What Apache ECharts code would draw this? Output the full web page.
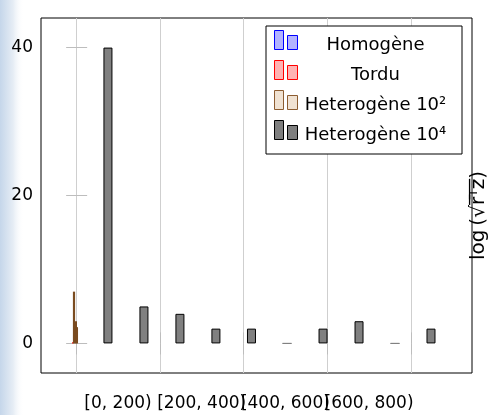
<!DOCTYPE html>
<html><head><meta charset="utf-8">
<script src="https://cdn.jsdelivr.net/npm/echarts@6/dist/echarts.min.js"></script>
<style>html,body{margin:0;padding:0;background:#fff}#c{width:489px;height:415px}</style>
</head><body><div id="c"></div>
<script>
// ---- data ----
const seriesNames = ['Homogène', 'Tordu', 'Heterogène 10²', 'Heterogène 10⁴'];
const homogeneX = [1];
const homogeneY = [0];
const torduX = [1];
const torduY = [0.15];
const hetero2X = [3, 7.5, 10];
const hetero2Y = [7, 3, 2.2];
const hetero4X = [76, 162, 248, 334, 419, 504, 590, 676, 762, 848];
const hetero4Y = [40, 5, 4, 2, 2, 0, 2, 3, 0, 2];
const xTickValues = [0, 200, 400, 600, 800];
const xLabelValues = [100, 300, 500, 700];
const xLabels = ['[0, 200)', '[200, 400)', '[400, 600)', '[600, 800)'];
const yTickValues = [0, 20, 40];
const yAxisName = 'log\u2009(√r̅ᵀ̅z̅)';

const FONT = 'DejaVu Sans';
const pair = (xs, ys) => xs.map((x, i) => [x, ys[i]]);
const iconPath = 'path://M0,0L9,0L9,19L0,19Z M13,5L23,5L23,19L13,19Z';
const labelFor = v => {
  let best = 0;
  xLabelValues.forEach((lv, i) => { if (Math.abs(lv - v) < Math.abs(xLabelValues[best] - v)) best = i; });
  return xLabels[best];
};

const chart = echarts.init(document.getElementById('c'), null, {renderer: 'canvas'});
const xCommon = {type: 'value', min: -84, max: 946};
const yCommon = {type: 'value', min: -4, max: 44};
const labelAxis = vals => Object.assign({}, xCommon, {
  position: 'bottom', offset: 0,
  axisLine: {show: false}, axisTick: {show: false}, splitLine: {show: false},
  axisLabel: {show: true, hideOverlap: false, customValues: vals, margin: 22, color: '#000',
    fontFamily: FONT, fontSize: 17, formatter: labelFor}
});
chart.setOption({
  animation: false,
  backgroundColor: '#fff',
  graphic: [{
    type: 'rect', left: 0, top: 0, z: -10,
    shape: {width: 24, height: 415},
    style: {fill: new echarts.graphic.LinearGradient(0, 0, 1, 0, [
      {offset: 0, color: '#c5d6ea'}, {offset: 0.55, color: '#e6edf5'}, {offset: 1, color: 'rgba(255,255,255,0)'}])}
  }],
  grid: {left: 41, right: 17, top: 18, bottom: 42, containLabel: false, outerBoundsMode: 'none',
    show: true, borderColor: '#000', borderWidth: 1, backgroundColor: 'transparent'},
  xAxis: [
    Object.assign({}, xCommon, {
      position: 'bottom',
      axisLine: {show: false},
      axisTick: {show: true, inside: false, length: 11, customValues: xTickValues, lineStyle: {color: '#bdbdbd'}},
      splitLine: {show: true, lineStyle: {color: '#cfcfcf', width: 1}},
      axisLabel: {show: false}
    }),
    Object.assign({}, xCommon, {
      position: 'top',
      axisLine: {show: false},
      axisTick: {show: true, inside: false, length: 11, customValues: xTickValues, lineStyle: {color: '#bdbdbd'}},
      splitLine: {show: false},
      axisLabel: {show: false}
    }),
    labelAxis([xLabelValues[0], xLabelValues[2]]),
    labelAxis([xLabelValues[1], xLabelValues[3]])
  ],
  yAxis: [
    Object.assign({}, yCommon, {
      position: 'left',
      axisLine: {show: false},
      axisTick: {show: true, inside: true, length: 11, customValues: yTickValues, lineStyle: {color: '#bdbdbd'}},
      splitLine: {show: false},
      axisLabel: {show: true, customValues: yTickValues, margin: 8, color: '#000', fontFamily: FONT, fontSize: 17}
    }),
    Object.assign({}, yCommon, {
      position: 'right',
      axisLine: {show: false},
      axisTick: {show: true, inside: true, length: 10, customValues: yTickValues, lineStyle: {color: '#bdbdbd'}},
      splitLine: {show: false},
      axisLabel: {show: false},
      name: yAxisName, nameLocation: 'middle', nameRotate: 90, nameGap: -3,
      nameTextStyle: {color: '#000', fontFamily: FONT, fontSize: 20, padding: [0, 40, 0, 0]}
    })
  ],
  legend: {
    left: 266, top: 26, orient: 'vertical',
    padding: [0, 14, 10, 8], itemGap: 2, itemWidth: 24, itemHeight: 19,
    backgroundColor: '#fff', borderColor: '#000', borderWidth: 1, borderRadius: 0,
    selectedMode: false,
    formatter: n => '{t|' + n + '}',
    textStyle: {rich: {t: {fontFamily: FONT, fontSize: 18, color: '#000', width: 145, align: 'center', lineHeight: 19, padding: [10, 0, 0, 0]}}},
    data: [
      {name: seriesNames[0], icon: iconPath, itemStyle: {color: '#b3b3ff', borderColor: '#0000ff', borderWidth: 1}},
      {name: seriesNames[1], icon: iconPath, itemStyle: {color: '#ffb3b3', borderColor: '#ff0000', borderWidth: 1}},
      {name: seriesNames[2], icon: iconPath, itemStyle: {color: '#f0e2d2', borderColor: '#8c5c30', borderWidth: 1}},
      {name: seriesNames[3], icon: iconPath, itemStyle: {color: '#7f7f7f', borderColor: '#000', borderWidth: 1}}
    ]
  },
  series: [
    {name: seriesNames[0], type: 'bar', barGap: '-100%', barWidth: 1.5, data: pair(homogeneX, homogeneY),
      itemStyle: {color: '#b3b3ff', borderColor: '#0000ff', borderWidth: 0}},
    {name: seriesNames[1], type: 'bar', barGap: '-100%', barWidth: 1.5, data: pair(torduX, torduY),
      itemStyle: {color: '#ff0000', borderWidth: 0}},
    {name: seriesNames[2], type: 'bar', barGap: '-100%', barWidth: 2.2, data: pair(hetero2X, hetero2Y),
      itemStyle: {color: '#7a4b1f', borderWidth: 0}},
    {name: seriesNames[3], type: 'bar', barGap: '-100%', barWidth: 9,
      data: pair(hetero4X, hetero4Y).map(d => d[1] === 0
        ? {value: d, itemStyle: {borderColor: '#808080'}} : {value: d}),
      itemStyle: {color: '#808080', borderColor: '#000', borderWidth: 1}}
  ]
});
</script></body></html>
